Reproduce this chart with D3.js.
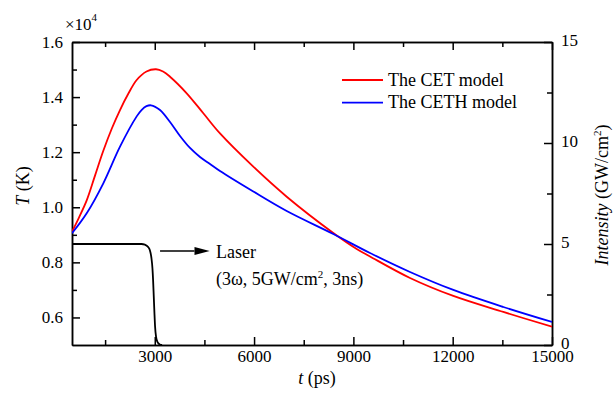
<!DOCTYPE html>
<html>
<head>
<meta charset="utf-8">
<script src="https://cdn.jsdelivr.net/npm/d3@7"></script>
<style>
  body { margin: 0; background: #fff; }
  svg text { font-family: "Liberation Serif", "Tinos", "Times New Roman", Times, "DejaVu Serif", serif !important; }
</style>
</head>
<body>
<svg id="chart" width="614" height="396"></svg>
<script>
// ---- data ----
const cetTime = [500, 700, 944, 1195, 1446, 1700, 1950, 2200, 2454, 2750, 3038, 3250, 3461, 3965, 4467, 4971, 5977, 6986, 8394, 9101, 9502, 10711, 12019, 13530, 15000];
const cetTemp = [9114, 9600, 10250, 11150, 12050, 12850, 13530, 14120, 14620, 14930, 15010, 14930, 14740, 14138, 13412, 12680, 11474, 10384, 9067, 8486, 8214, 7433, 6780, 6199, 5665];

const cethTime = [500, 944, 1446, 1950, 2454, 2600, 2750, 2887, 3158, 3461, 3763, 4065, 4367, 4669, 4971, 5977, 6986, 8394, 9502, 10711, 12019, 13530, 15000];
const cethTemp = [9055, 9782, 10871, 12200, 13300, 13530, 13670, 13702, 13532, 13096, 12588, 12152, 11826, 11572, 11317, 10573, 9865, 9030, 8341, 7651, 6998, 6380, 5836];

const laserTime = [500, 2500, 2600, 2700, 2800, 2850, 2900, 2930, 2950, 2970, 2990, 3010, 3040, 3080, 3140, 3220];
const laserIntensity = [5, 5, 5, 4.97, 4.85, 4.7, 4.3, 3.8, 3.2, 2.4, 1.6, 0.9, 0.4, 0.15, 0.04, 0];

const xMajorTicks = [3000, 6000, 9000, 12000, 15000];
const xMinorTicks = [1500, 4500, 7500, 10500, 13500];
const yLeftMajorTicks = [6000, 8000, 10000, 12000, 14000, 16000];
const yLeftMinorTicks = [7000, 9000, 11000, 13000, 15000];
const yRightMajorTicks = [0, 5, 10, 15];
const yRightMinorTicks = [2.5, 7.5, 12.5];

const seriesNames = ["The CET model", "The CETH model"];
const seriesColors = ["#ff0000", "#0000ff"];

// ---- layout ----
const svg = d3.select("#chart");
const L = 72, R = 552, T = 42, B = 345;

const x = d3.scaleLinear().domain([500, 15000]).range([L, R]);
const yL = d3.scaleLinear().domain([5000, 16000]).range([B, T]);
const yR = d3.scaleLinear().domain([0, 15]).range([B, T]);

svg.append("defs").append("clipPath").attr("id", "clip")
  .append("rect").attr("x", L).attr("y", T).attr("width", R - L).attr("height", B - T);

const tickFont = 17;

function styleAxis(g) {
  g.attr("font-family", null);
  g.selectAll("path.domain").attr("stroke", "#000").attr("stroke-width", 1.5);
  g.selectAll(".tick line").attr("stroke", "#000").attr("stroke-width", 1.5);
  g.selectAll("text").attr("font-size", tickFont).attr("fill", "#000");
}

// bottom axis
svg.append("g").attr("transform", `translate(0,${B})`)
  .call(d3.axisBottom(x).tickValues(xMinorTicks).tickSize(-5).tickFormat("").tickSizeOuter(0))
  .call(styleAxis);
svg.append("g").attr("transform", `translate(0,${B})`)
  .call(d3.axisBottom(x).tickValues(xMajorTicks).tickSize(-8).tickPadding(5).tickFormat(d3.format("d")).tickSizeOuter(0))
  .call(styleAxis);
// top axis
svg.append("g").attr("transform", `translate(0,${T})`)
  .call(d3.axisTop(x).tickValues(xMinorTicks).tickSize(-5).tickFormat("").tickSizeOuter(0))
  .call(styleAxis);
svg.append("g").attr("transform", `translate(0,${T})`)
  .call(d3.axisTop(x).tickValues(xMajorTicks).tickSize(-8).tickFormat("").tickSizeOuter(0))
  .call(styleAxis);
// left axis
svg.append("g").attr("transform", `translate(${L},0)`)
  .call(d3.axisLeft(yL).tickValues(yLeftMinorTicks).tickSize(-5).tickFormat("").tickSizeOuter(0))
  .call(styleAxis);
svg.append("g").attr("transform", `translate(${L},0)`)
  .call(d3.axisLeft(yL).tickValues(yLeftMajorTicks).tickSize(-8).tickPadding(9)
    .tickFormat(d => (d / 1e4).toFixed(1)).tickSizeOuter(0))
  .call(styleAxis);
// right axis
svg.append("g").attr("transform", `translate(${R},0)`)
  .call(d3.axisRight(yR).tickValues(yRightMinorTicks).tickSize(-5).tickFormat("").tickSizeOuter(0))
  .call(styleAxis);
const rightAxis = svg.append("g").attr("transform", `translate(${R},0)`)
  .call(d3.axisRight(yR).tickValues(yRightMajorTicks).tickSize(-8).tickPadding(9).tickFormat(d3.format("d")).tickSizeOuter(0))
  .call(styleAxis);
rightAxis.selectAll("text").attr("dy", "0.22em");

// ---- curves ----
const plot = svg.append("g").attr("clip-path", "url(#clip)");
const lineL = d3.line().x(d => x(d[0])).y(d => yL(d[1])).curve(d3.curveCatmullRom.alpha(0.5));
const lineR = d3.line().x(d => x(d[0])).y(d => yR(d[1])).curve(d3.curveMonotoneX);

plot.append("path").datum(laserTime.map((t, i) => [t, laserIntensity[i]]))
  .attr("d", lineR).attr("fill", "none").attr("stroke", "#000").attr("stroke-width", 1.8);
plot.append("path").datum(cetTime.map((t, i) => [t, cetTemp[i]]))
  .attr("d", lineL).attr("fill", "none").attr("stroke", seriesColors[0]).attr("stroke-width", 1.8);
plot.append("path").datum(cethTime.map((t, i) => [t, cethTemp[i]]))
  .attr("d", lineL).attr("fill", "none").attr("stroke", seriesColors[1]).attr("stroke-width", 1.8);

// ---- legend ----
const legend = svg.append("g");
seriesNames.forEach((name, i) => {
  const yy = 80 + i * 22.7;
  legend.append("line").attr("x1", 342).attr("x2", 383).attr("y1", yy).attr("y2", yy)
    .attr("stroke", seriesColors[i]).attr("stroke-width", 1.8);
  legend.append("text").attr("x", 388).attr("y", yy + 5.5).attr("font-size", 18).attr("fill", "#000").text(name);
});

// ---- laser annotation ----
const arrowY = yR(4.65);
svg.append("line").attr("x1", x(3160)).attr("x2", x(4200)).attr("y1", arrowY).attr("y2", arrowY)
  .attr("stroke", "#000").attr("stroke-width", 1.5);
svg.append("path")
  .attr("d", `M${x(4660)},${arrowY} L${x(4200)},${arrowY - 4} L${x(4200)},${arrowY + 4} Z`)
  .attr("fill", "#000");
svg.append("text").attr("x", 216).attr("y", 257.5).attr("font-size", 18).attr("fill", "#000").text("Laser");
const lt = svg.append("text").attr("x", 216).attr("y", 285).attr("font-size", 18).attr("fill", "#000");
lt.append("tspan").text("(3ω, 5GW/cm");
lt.append("tspan").attr("dy", -7).attr("font-size", 11).text("2");
lt.append("tspan").attr("dy", 7).text(", 3ns)");

// ---- axis titles ----
const xt = svg.append("text").attr("x", 317).attr("y", 384).attr("text-anchor", "middle").attr("font-size", 18).attr("fill", "#000");
xt.append("tspan").attr("font-style", "italic").text("t");
xt.append("tspan").text(" (ps)");

const ylt = svg.append("text").attr("transform", "translate(29,186) rotate(-90)").attr("text-anchor", "middle")
  .attr("font-size", 18).attr("fill", "#000");
ylt.append("tspan").attr("font-style", "italic").text("T");
ylt.append("tspan").text(" (K)");

const yrt = svg.append("text").attr("transform", "translate(608,195) rotate(-90)").attr("text-anchor", "middle")
  .attr("font-size", 18).attr("fill", "#000");
yrt.append("tspan").attr("font-style", "italic").text("Intensity");
yrt.append("tspan").text(" (GW/cm");
yrt.append("tspan").attr("dy", -7).attr("font-size", 11).text("2");
yrt.append("tspan").attr("dy", 7).text(")");

// multiplier label
const mult = svg.append("text").attr("x", 65).attr("y", 30).attr("font-size", 17).attr("fill", "#000");
mult.append("tspan").text("×10");
mult.append("tspan").attr("dy", -9).attr("font-size", 11).text("4");
</script>
</body>
</html>
